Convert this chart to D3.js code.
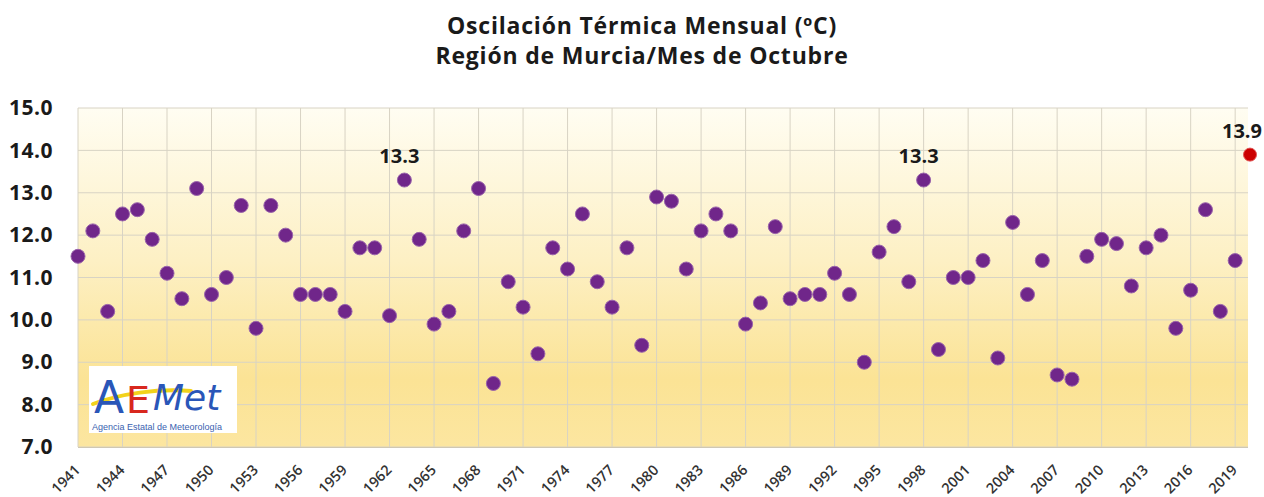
<!DOCTYPE html>
<html>
<head>
<meta charset="utf-8">
<script src="https://cdn.jsdelivr.net/npm/d3@7"></script>
<style>
  body { margin: 0; background: #fff; }
  svg { display: block; font-family: "Open Sans", sans-serif; }
</style>
</head>
<body>
<svg width="1264" height="497"></svg>
<script>
// años 1941-2020, oscilación térmica de octubre (ºC)
const years = d3.range(1941, 2021)
const values = [
  11.5, 12.1, 10.2, 12.5, 12.6, 11.9, 11.1, 10.5, 13.1, 10.6,
  11.0, 12.7, 9.8, 12.7, 12.0, 10.6, 10.6, 10.6, 10.2, 11.7,
  11.7, 10.1, 13.3, 11.9, 9.9, 10.2, 12.1, 13.1, 8.5, 10.9,
  10.3, 9.2, 11.7, 11.2, 12.5, 10.9, 10.3, 11.7, 9.4, 12.9,
  12.8, 11.2, 12.1, 12.5, 12.1, 9.9, 10.4, 12.2, 10.5, 10.6,
  10.6, 11.1, 10.6, 9.0, 11.6, 12.2, 10.9, 13.3, 9.3, 11.0,
  11.0, 11.4, 9.1, 12.3, 10.6, 11.4, 8.7, 8.6, 11.5, 11.9,
  11.8, 10.8, 11.7, 12.0, 9.8, 10.7, 12.6, 10.2, 11.4, 13.9
]
const yTicks = [7, 8, 9, 10, 11, 12, 13, 14, 15]
const tickYears = d3.range(1941, 2020, 3)
const labelled = [1963, 1998]   // máximos anotados
const lastYear = 2020

const svg = d3.select('svg')
const pLeft = 78, pRight = 1248, pTop = 108, pBottom = 447

const x = d3.scalePoint().domain(years).range([pLeft, 1250])
const y = d3.scaleLinear().domain([7, 15]).range([pBottom, pTop])

// fondo degradado
const defs = svg.append('defs')
const grad = defs.append('linearGradient')
    .attr('id', 'bg').attr('x1', 0).attr('y1', 0).attr('x2', 0).attr('y2', 1)
grad.append('stop').attr('offset', '0%').attr('stop-color', '#fffdf2')
grad.append('stop').attr('offset', '45%').attr('stop-color', '#fdf0c4')
grad.append('stop').attr('offset', '80%').attr('stop-color', '#fbe395')
grad.append('stop').attr('offset', '100%').attr('stop-color', '#fce6a0')

svg.append('rect')
    .attr('x', pLeft).attr('y', pTop)
    .attr('width', pRight - pLeft).attr('height', pBottom - pTop)
    .attr('fill', 'url(#bg)')

// rejilla
svg.append('g')
    .selectAll('line')
    .data(yTicks)
    .enter().append('line')
    .attr('x1', pLeft).attr('x2', pRight)
    .attr('y1', d => y(d)).attr('y2', d => y(d))
    .attr('stroke', '#d8d3c4').attr('stroke-width', 1)

svg.append('g')
    .selectAll('line')
    .data(tickYears)
    .enter().append('line')
    .attr('x1', d => x(d)).attr('x2', d => x(d))
    .attr('y1', pTop).attr('y2', pBottom)
    .attr('stroke', '#d8d3c4').attr('stroke-width', 1)

svg.append('line')
    .attr('x1', pLeft).attr('x2', pRight)
    .attr('y1', pBottom + 0.5).attr('y2', pBottom + 0.5)
    .attr('stroke', '#cfc8b4')

// eje Y
const yAxis = d3.axisLeft(y).tickValues(yTicks).tickFormat(d3.format('.1f')).tickSize(0).tickPadding(25)
svg.append('g')
    .attr('transform', `translate(${pLeft},0)`)
    .call(yAxis)
    .call(g => g.select('.domain').remove())
    .selectAll('text')
    .style('font-family', '"Open Sans", sans-serif')
    .style('font-size', '21px')
    .style('font-weight', '700')
    .style('letter-spacing', '0.5px')
    .attr('fill', '#1a1a1a')

// eje X
svg.append('g')
    .selectAll('text')
    .data(tickYears)
    .enter().append('text')
    .attr('transform', d => `translate(${x(d) + 3},${pBottom + 24}) rotate(-45)`)
    .attr('text-anchor', 'end')
    .style('font-size', '14.5px')
    .style('font-weight', '600')
    .attr('fill', '#333')
    .text(d => d)

// logo AEMET
const logo = svg.append('g').attr('transform', 'translate(89,366)')
logo.append('rect').attr('width', 148).attr('height', 67).attr('fill', '#fff')
logo.append('path')
    .attr('d', 'M4,38 C30,28 70,22 102,25')
    .attr('fill', 'none').attr('stroke', '#f2d21b').attr('stroke-width', 4)
    .attr('stroke-linecap', 'round')
logo.append('text').attr('x', 5).attr('y', 47)
    .style('font-family', '"DejaVu Sans", sans-serif').style('font-size', '44px')
    .attr('fill', '#2a56b8').text('A')
logo.append('text').attr('x', 37).attr('y', 47)
    .style('font-family', '"DejaVu Sans", sans-serif').style('font-size', '38px')
    .attr('fill', '#d8281e').text('E')
logo.append('text').attr('x', 64).attr('y', 44)
    .style('font-family', '"DejaVu Sans", sans-serif').style('font-size', '36px')
    .style('font-style', 'italic')
    .attr('fill', '#2a56b8').text('Met')
logo.append('text').attr('x', 3).attr('y', 64)
    .style('font-family', '"Liberation Sans", sans-serif').style('font-size', '9px')
    .attr('fill', '#3a5fb0').text('Agencia Estatal de Meteorología')

// puntos
const data = years.map((yr, i) => ({ year: yr, value: values[i] }))

svg.append('g')
    .selectAll('circle')
    .data(data.filter(d => d.year !== lastYear))
    .enter().append('circle')
    .attr('cx', d => x(d.year))
    .attr('cy', d => y(d.value))
    .attr('r', 7)
    .attr('fill', '#70268a')
    .attr('stroke', '#9a64ab')
    .attr('stroke-width', 1)

const last = data.find(d => d.year === lastYear)
svg.append('circle')
    .attr('cx', x(last.year)).attr('cy', y(last.value))
    .attr('r', 6.5)
    .attr('fill', '#cc0000')
    .attr('stroke', '#e05050').attr('stroke-width', 1)

// etiquetas
svg.append('g')
    .selectAll('text')
    .data(data.filter(d => labelled.includes(d.year)))
    .enter().append('text')
    .attr('x', d => x(d.year) - 5)
    .attr('y', d => y(d.value) - 17)
    .attr('text-anchor', 'middle')
    .style('font-size', '20px').style('font-weight', '700')
    .attr('fill', '#1a1a1a')
    .text(d => d.value.toFixed(1))

svg.append('text')
    .attr('x', 1262).attr('y', y(last.value) - 17)
    .attr('text-anchor', 'end')
    .style('font-size', '20px').style('font-weight', '700')
    .attr('fill', '#1a1a1a')
    .text(last.value.toFixed(1))

// título
const title = svg.append('text')
    .attr('text-anchor', 'middle')
    .style('font-size', '23px').style('font-weight', '700')
    .style('letter-spacing', '0.8px')
    .attr('fill', '#1a1a1a')
title.append('tspan').attr('x', 642).attr('y', 34).text('Oscilación Térmica Mensual (ºC)')
title.append('tspan').attr('x', 642).attr('y', 64).text('Región de Murcia/Mes de Octubre')
</script>
</body>
</html>
